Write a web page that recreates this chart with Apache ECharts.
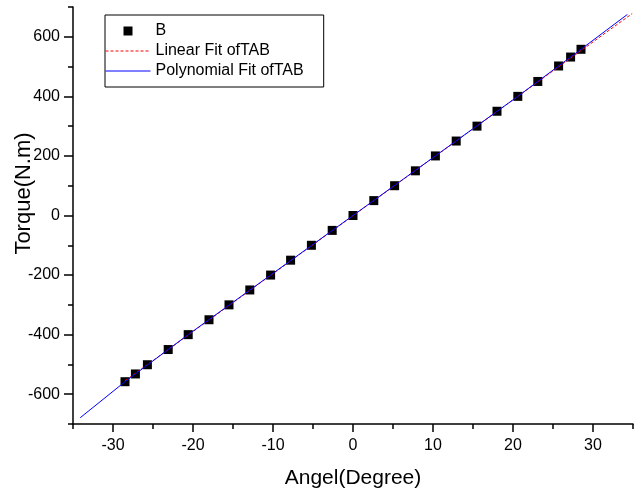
<!DOCTYPE html>
<html>
<head>
<meta charset="utf-8">
<script src="https://cdn.jsdelivr.net/npm/echarts@6/dist/echarts.min.js"></script>
<style>
html,body{margin:0;padding:0;background:#fff;}
#chart{width:642px;height:492px;}
</style>
</head>
<body>
<div id="chart"></div>
<script>
// Measured data (series B)
var angles = [-28.5,-27.2,-25.7,-23.1,-20.6,-18.0,-15.5,-12.9,-10.3,-7.8,-5.2,-2.6,0,2.6,5.2,7.8,10.3,12.9,15.5,18.0,20.6,23.1,25.7,27.2,28.5];
var torque = [-558,-532,-501,-450,-400,-350,-300,-250,-200,-150,-100,-50,0,50,100,150,200,250,300,350,400,450,502,532,558];
// Linear fit of TAB
var linX = [-28.5, 34.9];
var linY = [-555, 678];
// Polynomial fit of TAB
var polyX = [-34.1,-28.5,-20.6,-10.3,0,10.3,20.6,28.5,34.3];
var polyY = [-679,-558,-400,-200,0,200,400,558,675];
// Axis ticks
var xMajor = [-30,-20,-10,0,10,20,30];
var xMinor = [-35,-25,-15,-5,5,15,25,35];
var yMajor = [-600,-400,-200,0,200,400,600];
var yMinor = [-700,-500,-300,-100,100,300,500,700];

function pairs(a,b){return a.map(function(v,i){return [v,b[i]];});}

var FONT = 'Liberation Sans, Arial, sans-serif';
var chart = echarts.init(document.getElementById('chart'), null, {renderer:'canvas'});
var axisLineStyle = {color:'#000', width:1.5};
var hiddenMarker = {color:'rgba(0,0,0,0)', borderWidth:0, opacity:0};
chart.setOption({
  backgroundColor:'#fff',
  animation:false,
  grid:{left:73, right:9, top:7, bottom:68, outerBoundsMode:'none', containLabel:false},
  legend:{
    left:105, top:15, orient:'vertical',
    padding:[8,20,8,0],
    borderColor:'#000', borderWidth:1,
    itemWidth:45, itemHeight:9, itemGap:4,
    textStyle:{fontFamily:FONT, fontSize:16, color:'#000'},
    data:[
      {name:'B', icon:'path://M0,0L10,0L10,10L0,10Z', itemStyle:{color:'#000', opacity:1}},
      {name:'Linear Fit ofTAB', itemStyle:hiddenMarker, lineStyle:{width:1, color:'#ff0000', type:[3,2]}},
      {name:'Polynomial Fit ofTAB', itemStyle:hiddenMarker, lineStyle:{width:1, color:'#0000ff'}}
    ]
  },
  xAxis:[
    {type:'value', min:-35, max:35, position:'bottom',
     axisLine:{show:true, onZero:false, lineStyle:axisLineStyle},
     axisTick:{show:true, customValues:xMajor, length:8, lineStyle:axisLineStyle},
     axisLabel:{customValues:xMajor, fontFamily:FONT, fontSize:16, color:'#000', margin:14},
     splitLine:{show:false},
     name:'Angel(Degree)', nameLocation:'middle', nameGap:44, nameMoveOverlap:false,
     nameTextStyle:{fontFamily:FONT, fontSize:21, color:'#000'}},
    {type:'value', min:-35, max:35, position:'bottom',
     axisLine:{show:false, onZero:false},
     axisTick:{show:true, customValues:xMinor, length:5, lineStyle:axisLineStyle},
     axisLabel:{show:false}, splitLine:{show:false}}
  ],
  yAxis:[
    {type:'value', min:-700, max:700, position:'left',
     axisLine:{show:true, onZero:false, lineStyle:axisLineStyle},
     axisTick:{show:true, customValues:yMajor, length:9, lineStyle:axisLineStyle},
     axisLabel:{customValues:yMajor, fontFamily:FONT, fontSize:16, color:'#000', margin:13},
     splitLine:{show:false},
     name:'Torque(N.m)', nameLocation:'middle', nameGap:38, nameMoveOverlap:false,
     nameTextStyle:{fontFamily:FONT, fontSize:22, color:'#000', padding:[0,0,0,44]}},
    {type:'value', min:-700, max:700, position:'left',
     axisLine:{show:false, onZero:false},
     axisTick:{show:true, customValues:yMinor, length:5, lineStyle:axisLineStyle},
     axisLabel:{show:false}, splitLine:{show:false}}
  ],
  series:[
    {name:'B', type:'scatter', symbol:'rect', symbolSize:9, z:2,
     itemStyle:{color:'#000', opacity:1}, data:pairs(angles,torque)},
    {name:'Linear Fit ofTAB', type:'line', symbol:'none', z:3,
     lineStyle:{color:'#ff0000', width:1, type:[3,2]}, itemStyle:{color:'#ff0000'},
     data:pairs(linX,linY)},
    {name:'Polynomial Fit ofTAB', type:'line', symbol:'none', z:4,
     lineStyle:{color:'#0000ff', width:1}, itemStyle:{color:'#0000ff'},
     data:pairs(polyX,polyY)}
  ]
});
</script>
</body>
</html>
